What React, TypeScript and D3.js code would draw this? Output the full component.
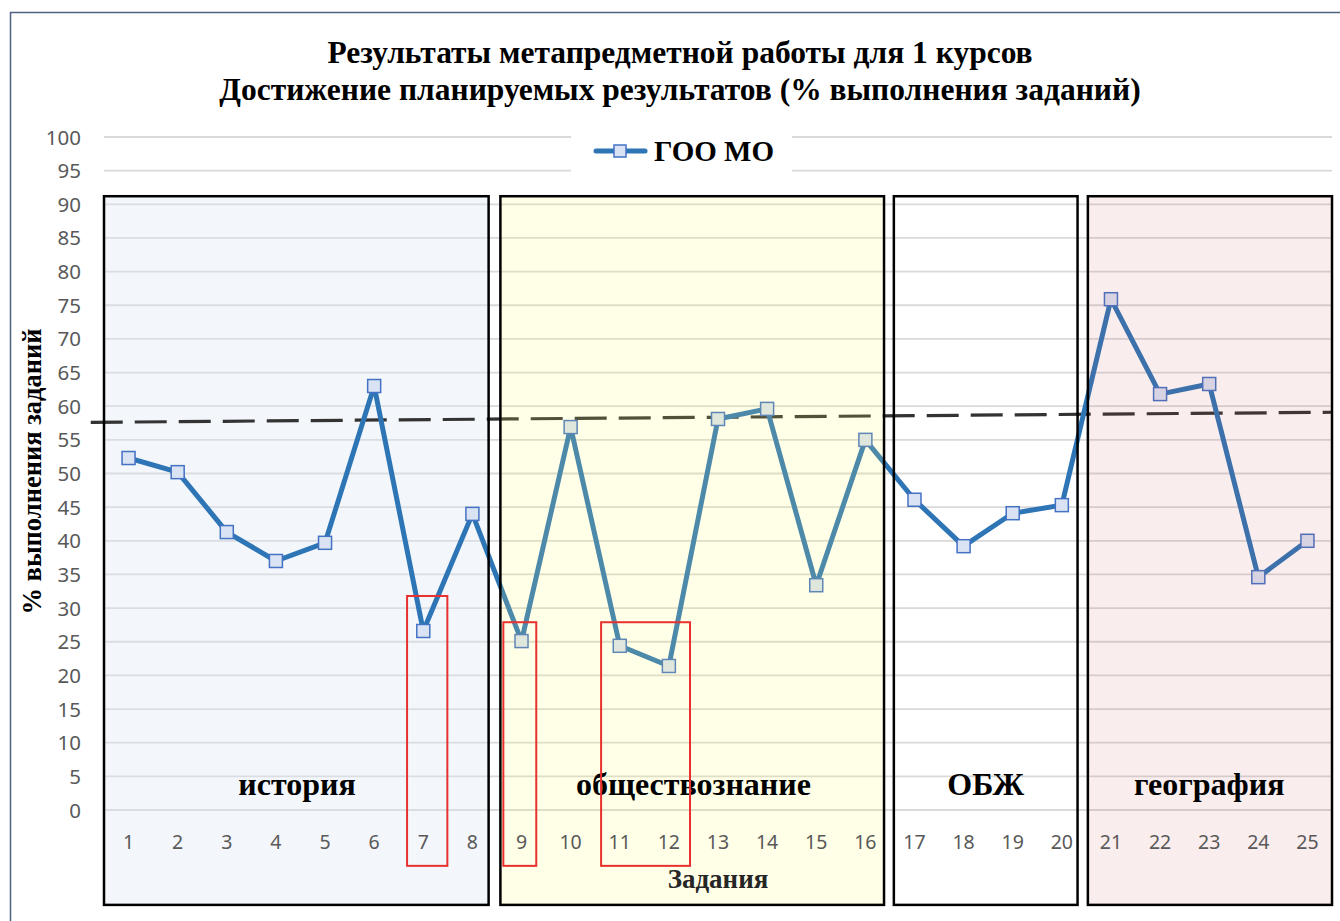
import * as d3 from 'd3';

const W = 1340;
const H = 921;
const MARGIN = { top: 137, right: 8, bottom: 111, left: 104 };

// tasks 1..25 and % of completion (ГОО МО)
const tasks = d3.range(1, 26).map(String);
const values = [52.3, 50.2, 41.3, 37.0, 39.7, 63.0, 26.6, 44.0, 25.1, 56.9, 24.4, 21.4, 58.1, 59.6, 33.4, 55.0, 46.1, 39.2, 44.1, 45.3, 75.9, 61.8, 63.3, 34.6, 40.0];
const yTicks = d3.range(0, 101, 5);

// dashed reference line endpoints (task position, value)
const refLine = [
  { t: 0.23, v: 57.6 },
  { t: 25.5, v: 59.1 },
];

// subject areas: from/to in task positions, top/bottom in values
const subjects = [
  { name: 'история', from: 0.5, to: 8.33, top: 91.2, bottom: -14.1, fill: '#dce6f2', opacity: 0.35, over: false },
  { name: 'обществознание', from: 8.57, to: 16.38, top: 91.2, bottom: -14.1, fill: '#ffff66', opacity: 0.15, over: true },
  { name: 'ОБЖ', from: 16.58, to: 20.32, top: 91.2, bottom: -14.1, fill: '#ffffff', opacity: 0, over: true },
  { name: 'география', from: 20.53, to: 25.5, top: 91.2, bottom: -14.1, fill: '#c0504d', opacity: 0.1, over: true },
];
const subjectLabelX = [4.43, 12.5, 18.45, 23.0];

// red highlight frames
const highlights = [
  { from: 6.67, to: 7.49, top: 31.8 },
  { from: 8.63, to: 9.3, top: 27.9 },
  { from: 10.62, to: 12.43, top: 27.9 },
];
const highlightBottom = -8.3;

const TITLE = ['Результаты метапредметной работы для 1 курсов', 'Достижение планируемых результатов (% выполнения заданий)'];

const SERIF = '"Liberation Serif", "Times New Roman", serif';
const SANS = '"Noto Sans", "Open Sans", sans-serif';

export default function App() {
  const boundsWidth = W - MARGIN.left - MARGIN.right;
  const x = d3.scaleLinear().domain([0.5, 25.5]).range([MARGIN.left, MARGIN.left + boundsWidth]);
  const y = d3.scaleLinear().domain([0, 100]).range([810, 137]);

  const line = d3
    .line<number>()
    .x((_, i) => x(i + 1))
    .y((d) => y(d));
  const dashPath = d3
    .line<{ t: number; v: number }>()
    .x((d) => x(d.t))
    .y((d) => y(d.v))(refLine);

  const box = (s: typeof subjects[number], key: string, withFill: boolean) => (
    <rect
      key={key}
      x={x(s.from)}
      y={y(s.top)}
      width={x(s.to) - x(s.from)}
      height={y(s.bottom) - y(s.top)}
      fill={withFill ? s.fill : 'none'}
      fillOpacity={s.opacity}
      stroke={withFill ? 'none' : '#000'}
      strokeWidth={2.5}
    />
  );

  return (
    <div style={{ position: 'fixed', left: 0, top: 0 }}>
      <svg width={W} height={H} style={{ display: 'block' }}>
        <rect x={0} y={0} width={W} height={H} fill="#fff" />
        <rect x={10.5} y={12.5} width={W + 10} height={H + 10} fill="none" stroke="#4e6283" strokeWidth={1.5} />

        {TITLE.map((t, i) => (
          <text key={i} x={680} y={63 + i * 37} textAnchor="middle" fontFamily={SERIF} fontWeight="bold" fontSize={31.5} fill="#000">
            {t}
          </text>
        ))}

        {/* gridlines */}
        {yTicks.map((v) => (
          <line key={v} x1={x(0.5)} x2={x(25.5)} y1={y(v)} y2={y(v)} stroke="#d9d9d9" strokeWidth={1.8} />
        ))}
        {yTicks.map((v) => (
          <text key={v} x={81} y={y(v) + 7.5} textAnchor="end" fontFamily={SANS} fontSize={20.5} fill="#595959">
            {v}
          </text>
        ))}

        {/* legend */}
        <rect x={571} y={128} width={221} height={48} fill="#fff" />
        <line x1={596} x2={645} y1={151} y2={151} stroke="#2e75b6" strokeWidth={5} strokeLinecap="round" />
        <rect x={614} y={145} width={12} height={12} fill="#dae3f3" stroke="#4472c4" strokeWidth={1.5} />
        <text x={654} y={161} fontFamily={SERIF} fontWeight="bold" fontSize={29} fill="#000">
          ГОО МО
        </text>

        {subjects.filter((s) => !s.over).map((s, i) => box(s, 'under' + i, true))}

        <path d={dashPath || ''} fill="none" stroke="#333" strokeWidth={3.2} strokeDasharray="32 12" />

        <path d={line(values) || ''} fill="none" stroke="#2e75b6" strokeWidth={5} strokeLinejoin="round" />
        {values.map((v, i) => (
          <rect key={i} x={x(i + 1) - 6.5} y={y(v) - 6.5} width={13} height={13} fill="#dae3f3" stroke="#4472c4" strokeWidth={1.5} />
        ))}

        {subjects.filter((s) => s.over).map((s, i) => box(s, 'over' + i, true))}
        {subjects.map((s, i) => box(s, 'frame' + i, false))}

        {tasks.map((t, i) => (
          <text key={t} x={x(i + 1)} y={849} textAnchor="middle" fontFamily={SANS} fontSize={19.5} fill="#595959">
            {t}
          </text>
        ))}

        {subjects.map((s, i) => (
          <text key={s.name} x={x(subjectLabelX[i])} y={795} textAnchor="middle" fontFamily={SERIF} fontWeight="bold" fontSize={32} fill="#000">
            {s.name}
          </text>
        ))}

        {highlights.map((h, i) => (
          <rect
            key={i}
            x={x(h.from)}
            y={y(h.top)}
            width={x(h.to) - x(h.from)}
            height={y(highlightBottom) - y(h.top)}
            fill="none"
            stroke="#e8312f"
            strokeWidth={2}
          />
        ))}

        <text x={718} y={888} textAnchor="middle" fontFamily={SERIF} fontWeight="bold" fontSize={27} fill="#262626">
          Задания
        </text>
        <text
          transform={`translate(41, ${y(50) - 2}) rotate(-90)`}
          textAnchor="middle"
          fontFamily={SERIF}
          fontWeight="bold"
          fontSize={26.5}
          fill="#000"
        >
          % выполнения заданий
        </text>
      </svg>
    </div>
  );
}
